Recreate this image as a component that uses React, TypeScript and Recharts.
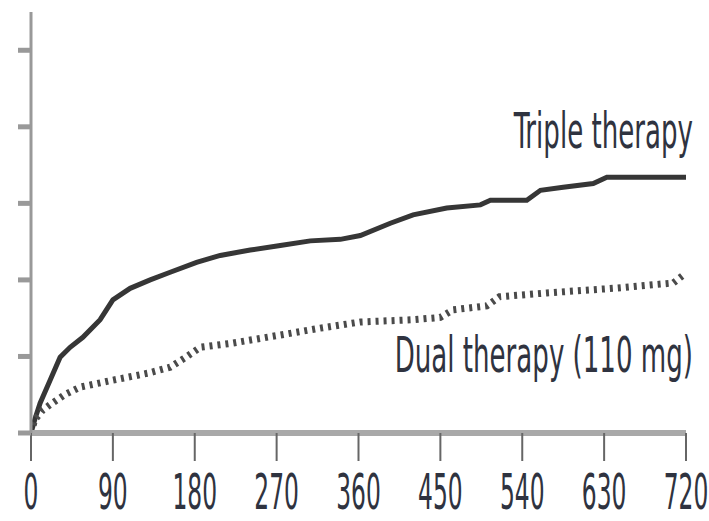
import React from 'react';
import { LineChart, Line, XAxis, YAxis, ReferenceDot } from 'recharts';

const xTicks = [0, 90, 180, 270, 360, 450, 540, 630, 720];
const yTicks = [0, 1, 2, 3, 4, 5];

const tripleDays = [0, 4, 10, 21, 32, 43, 57, 76, 90, 109, 131, 153, 182, 208, 241, 274, 307, 340, 362, 395, 420, 457, 494, 505, 545, 560, 585, 618, 633, 720];
const tripleVals = [0, 0.17, 0.39, 0.69, 0.99, 1.12, 1.25, 1.48, 1.74, 1.89, 2.0, 2.1, 2.23, 2.32, 2.39, 2.45, 2.51, 2.53, 2.58, 2.74, 2.85, 2.94, 2.98, 3.04, 3.04, 3.17, 3.21, 3.26, 3.34, 3.34];

const dualDays = [0, 4, 13, 21, 37, 54, 90, 128, 153, 169, 186, 219, 274, 318, 362, 420, 450, 464, 501, 515, 567, 640, 706, 720];
const dualVals = [0, 0.17, 0.3, 0.37, 0.5, 0.6, 0.69, 0.78, 0.86, 0.98, 1.12, 1.17, 1.28, 1.37, 1.45, 1.48, 1.51, 1.61, 1.66, 1.78, 1.83, 1.89, 1.96, 2.09];

const seriesNames = ['Triple therapy', 'Dual therapy (110 mg)'];
const labelPos = [3.72, 0.8];

const tripleData = tripleDays.map((d, i) => ({ day: d, v: tripleVals[i] }));
const dualData = dualDays.map((d, i) => ({ day: d, v: dualVals[i] }));

const FONT = '"Liberation Sans Narrow", "DejaVu Sans Condensed", "Liberation Sans", sans-serif';
const TEXT_COLOR = '#2f3340';

const XTick = (props: any) => {
  const { x, y, payload } = props;
  return (
    <g transform={`translate(${x},${y + 46}) scale(1,1.9)`}>
      <text x={0} y={0} textAnchor="middle" fontFamily={FONT} fontSize={26} fill={TEXT_COLOR}>
        {payload.value}
      </text>
    </g>
  );
};

const EmptyTick = () => <g />;

const makeLabel = (text: string) => (props: any) => {
  const vb = props.viewBox || {};
  const x = (vb.x ?? 0) + (vb.width ?? 0) / 2 + 7;
  const y = (vb.y ?? 0) + (vb.height ?? 0) / 2;
  return (
    <g transform={`translate(${x},${y}) scale(1,1.7)`}>
      <text x={0} y={0} textAnchor="end" fontFamily={FONT} fontSize={29} fill={TEXT_COLOR}>
        {text}
      </text>
    </g>
  );
};

export default function App() {
  return (
    <div style={{ position: 'absolute', left: 0, top: 0, width: 709, height: 521, background: '#fff' }}>
      <LineChart width={709} height={521} margin={{ top: 12, right: 23, bottom: 0, left: 0 }}>
        <XAxis
          dataKey="day"
          type="number"
          domain={[0, 720]}
          ticks={xTicks}
          interval={0}
          allowDataOverflow
          height={88}
          axisLine={{ stroke: '#a9a9a9', strokeWidth: 6 }}
          tickLine={{ stroke: '#666', strokeWidth: 2 }}
          tickSize={28}
          tick={<XTick />}
        />
        <YAxis
          type="number"
          domain={[0, 5.5]}
          ticks={yTicks}
          width={31}
          allowDataOverflow
          axisLine={{ stroke: '#999', strokeWidth: 3 }}
          tickLine={{ stroke: '#999', strokeWidth: 5 }}
          tickSize={13}
          tick={<EmptyTick />}
        />
        <Line
          data={tripleData}
          dataKey="v"
          type="linear"
          stroke="#363636"
          strokeWidth={5}
          dot={false}
          isAnimationActive={false}
        />
        <Line
          data={dualData}
          dataKey="v"
          type="linear"
          stroke="#4a4a4a"
          strokeWidth={7}
          strokeDasharray="3 5"
          dot={false}
          isAnimationActive={false}
        />
        <ReferenceDot x={720} y={labelPos[0]} r={0} fill="none" stroke="none" label={makeLabel(seriesNames[0])} />
        <ReferenceDot x={720} y={labelPos[1]} r={0} fill="none" stroke="none" label={makeLabel(seriesNames[1])} />
      </LineChart>
    </div>
  );
}
